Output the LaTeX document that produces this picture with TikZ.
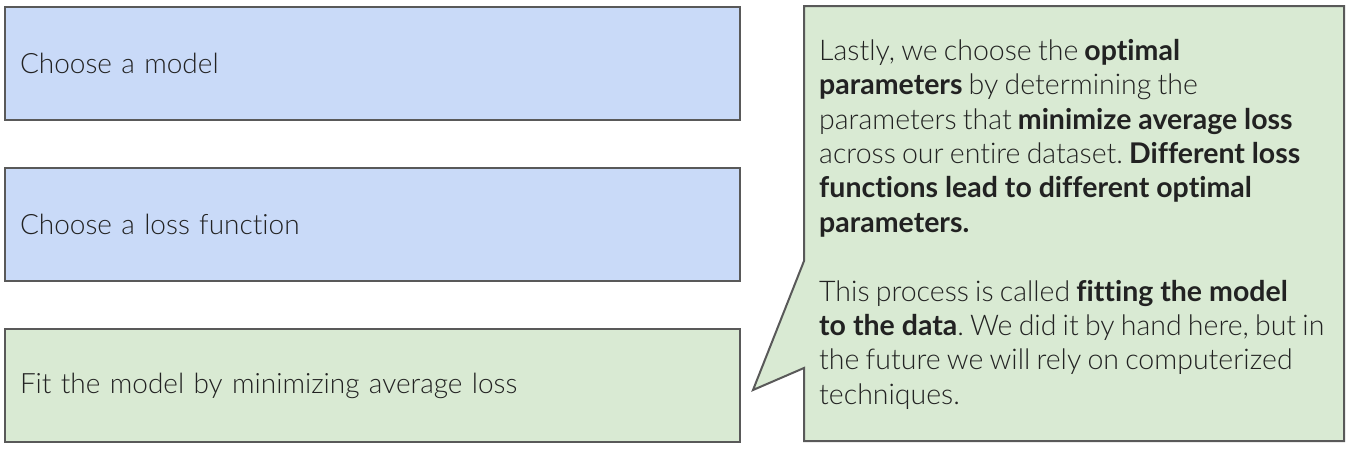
\documentclass[tikz,border=0pt]{standalone}
\usepackage{fontspec}
\setmainfont{Lato}[UprightFont=* Light, BoldFont=* Bold, Ligatures=NoCommon]
\newfontfamily\notefont{Lato}[UprightFont=* Light, BoldFont=* Bold, Ligatures=NoCommon, UprightFeatures={WordSpace=0.8}]
\frenchspacing
\definecolor{boxline}{HTML}{595959}
\definecolor{bluefill}{HTML}{C9DAF8}
\definecolor{greenfill}{HTML}{D9EAD3}
\definecolor{txt}{HTML}{222222}
\begin{document}
\begin{tikzpicture}[x=1pt,y=-1pt,
  box/.style={draw=boxline, line width=2pt},
  step box/.style={box, anchor=north west, minimum width=735pt, minimum height=113pt,
    text width=705pt, inner xsep=15pt, inner ysep=10pt, align=left, text=txt,
    font=\fontsize{28}{32}\selectfont},
]
\useasboundingbox (0,0) rectangle (1350,450);
\node[step box, fill=bluefill] (model) at (4,6) {Choose a model};
\node[step box, fill=bluefill] (loss) at (4,167) {Choose a loss function};
\node[step box, fill=greenfill] (fit) at (4,328) {Fit the model by minimizing average loss};
\draw[box, fill=greenfill, line join=miter] (804,6) -- (1344,6) -- (1344,441) -- (804,441) -- (804,368) -- (753,390) -- (804,261) -- cycle;
\node[anchor=north west, inner sep=0pt, align=left, text=txt,
  font=\notefont\fontsize{28.5}{34.4}\selectfont] (note) at (819,39) {%
Lastly, we choose the \textbf{optimal}\\
\textbf{parameters} by determining the\\
parameters that \textbf{minimize average loss}\\
across our entire dataset. \textbf{Different loss}\\
\textbf{functions lead to different optimal}\\
\textbf{parameters.}\\[34.4pt]
This process is called \textbf{fitting the model}\\
\textbf{to the data}. We did it by hand here, but in\\
the future we will rely on computerized\\
techniques.};
\end{tikzpicture}
\end{document}
